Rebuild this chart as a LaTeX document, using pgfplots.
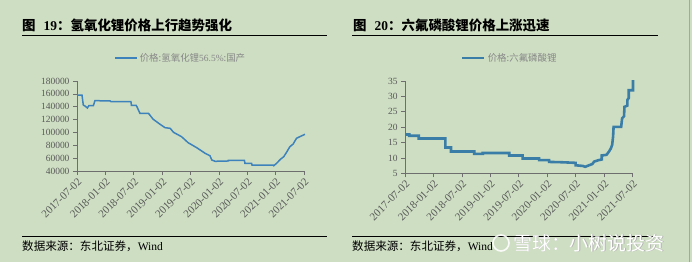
\documentclass[border=0pt]{standalone}
\usepackage{fontspec}
\setmainfont{Liberation Serif}
\newfontfamily\cjk{Noto Sans CJK SC}
\usepackage{pgfplots}
\pgfplotsset{compat=1.18}
\definecolor{bg}{RGB}{206,222,195}
\definecolor{lineA}{RGB}{62,130,188}
\definecolor{lineB}{RGB}{58,126,168}
\definecolor{tickgray}{RGB}{89,89,89}
\definecolor{axisgray}{RGB}{110,110,110}
\definecolor{leggray}{RGB}{135,135,135}
\pgfplotsset{
  common/.style={
    scale only axis,
    anchor=south west,
    axis x line*=bottom,
    axis y line*=left,
    axis line style={axisgray, line width=0.7bp},
    tick align=outside,
    major tick length=4bp,
    tick style={axisgray, line width=0.7bp},
    xtick={0,6,...,48},
    xticklabels={2017-07-02,2018-01-02,2018-07-02,2019-01-02,2019-07-02,2020-01-02,2020-07-02,2021-01-02,2021-07-02},
    xticklabel style={rotate=45, anchor=north east, font=\fontsize{11}{11}\selectfont, text=tickgray, inner sep=1.5bp},
    yticklabel style={font=\fontsize{9.5}{10}\selectfont, text=tickgray},
    /pgf/number format/.cd, fixed, precision=0, 1000 sep={}, assume math mode=true,
    /pgfplots/.cd,
    scaled y ticks=false,
    clip=false,
    legend style={draw=none, fill=none, anchor=center, font=\fontsize{9.5}{10}\selectfont, text=leggray, inner sep=0pt},
    legend image code/.code={\draw[##1] (0bp,0bp) -- (22bp,0bp);},
  }
}
\begin{document}
\begin{tikzpicture}[x=1bp,y=1bp]
\fill[bg] (0,0) rectangle (692,262);
\path[use as bounding box] (0,0) rectangle (692,262);
\draw[gray!70, line width=0.8bp] (689.5,0) -- (689.5,262);
% titles
\node[anchor=base west, inner sep=0pt] at (22,232) {\fontsize{13.5}{13.5}\selectfont{\cjk\bfseries 图}\hspace{0.6em}\textbf{19}{\cjk\bfseries ：氢氧化锂价格上行趋势强化}};
\node[anchor=base west, inner sep=0pt] at (353,232) {\fontsize{13.5}{13.5}\selectfont{\cjk\bfseries 图}\hspace{0.6em}\textbf{20}{\cjk\bfseries ：六氟磷酸锂价格上涨迅速}};
\draw[black, line width=0.9bp] (22,227) -- (327,227);
\draw[black, line width=0.9bp] (352,227) -- (658,227);
\draw[black, line width=0.9bp] (22,25.7) -- (327,25.7);
\draw[black, line width=0.9bp] (352,25.7) -- (658,25.7);
\node[anchor=base west, inner sep=0pt] at (22,12) {\fontsize{11.6}{11.6}\selectfont{\cjk 数据来源：东北证券，}Wind};
\node[anchor=base west, inner sep=0pt] at (352,12) {\fontsize{11.6}{11.6}\selectfont{\cjk 数据来源：东北证券，}Wind};

\begin{axis}[common,
  at={(77bp,91bp)}, width=228bp, height=90bp,
  xmin=0, xmax=48.2, ymin=40000, ymax=180000,
  ytick={40000,60000,...,180000},
  legend style={at={(axis description cs:0.455,1.255)}},
]
\addplot[lineA, line width=1.5bp] coordinates {
(0,158000)(1.06,158000)(1.33,142600)(1.7,141000)(2.2,138000)(2.5,141600)(3.45,141600)(3.8,149400)
(7.0,149000)(7.2,147800)(11.4,147800)(11.5,142200)(12.5,142200)(12.7,139500)(13.3,129800)(15.1,129800)
(16.1,120500)(17.5,113000)(18.6,107400)(19.7,106400)(20.4,100200)(22.1,93400)(23.5,84000)(25.3,76300)
(27.1,67500)(28.1,63800)(28.5,57100)(29.2,55100)(32,55600)(32,56600)(35.4,56600)(35.5,52000)(36.9,52000)
(37,49300)(41.5,49300)(41.6,48300)(42.2,52000)(43,58200)(43.7,62200)(44.3,69100)(45,77800)(45.7,82000)
(46.4,90900)(47.1,93400)(48.2,97100)
};
\addlegendentry{{\cjk 价格:氢氧化锂}56.5\%{\cjk :国产}}
\end{axis}

\begin{axis}[common,
  at={(405bp,88.7bp)}, width=228bp, height=92.3bp,
  xmin=0, xmax=48.1, ymin=5, ymax=35,
  ytick={5,10,...,35},
  legend style={at={(axis description cs:0.46,1.25)}},
]
\addplot[lineB, line width=2.6bp] coordinates {
(0,17.6)(0.9,17.6)(0.9,17.2)(2.9,17.2)(2.9,16.3)(8.5,16.3)(8.5,13.4)(9.7,13.4)(9.7,12.1)(14.6,12.1)
(14.6,11.3)(16.4,11.3)(16.4,11.6)(22,11.6)(22,10.8)(24.8,10.8)(24.8,9.8)(28.3,9.8)(28.3,9.3)(30.4,9.3)
(30.4,8.7)(33,8.6)(36,8.4)(36,7.6)(37.5,7.4)(38,7.1)(38.8,7.6)(39.5,8.0)(39.9,8.8)(40.9,9.3)(41.5,9.5)
(41.5,10.8)(42.5,11.0)(43,12.0)(43.4,13.0)(43.7,14.2)(43.9,17)(44,20.1)(45.6,20.1)(45.8,22.9)(46.2,23.5)
(46.3,26.6)(46.9,27)(46.9,28.8)(47.2,29.5)(47.2,32)(48.1,32)(48.1,35.3)
};
\addlegendentry{{\cjk 价格:六氟磷酸锂}}
\end{axis}

% watermark
\draw[white, line width=1.6bp, opacity=0.9] (501,19) circle (8);
\node[anchor=west, inner sep=0pt, text=gray!60] at (513.6,18.4) {\fontsize{19}{19}\selectfont\cjk 雪球：小树说投资};
\node[anchor=west, inner sep=0pt, text=white] at (513,19) {\fontsize{19}{19}\selectfont\cjk 雪球：小树说投资};
\end{tikzpicture}
\end{document}
